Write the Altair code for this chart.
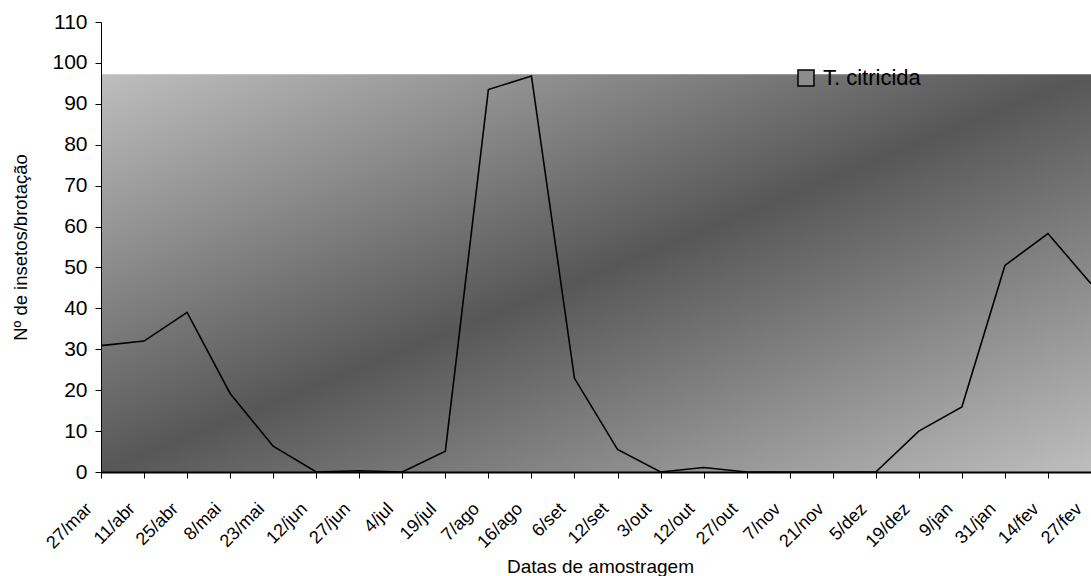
import altair as alt
import pandas as pd

# ---- dados ----
categorias = ["27/mar", "11/abr", "25/abr", "8/mai", "23/mai", "12/jun", "27/jun", "4/jul",
              "19/jul", "7/ago", "16/ago", "6/set", "12/set", "3/out", "12/out", "27/out",
              "7/nov", "21/nov", "5/dez", "19/dez", "9/jan", "31/jan", "14/fev", "27/fev"]
t_citricida = [30.9, 32.0, 39.0, 19.2, 6.3, 0.0, 0.3, 0.0,
               5.1, 93.5, 96.8, 22.9, 5.5, 0.0, 1.1, 0.0,
               0.0, 0.0, 0.0, 10.0, 15.9, 50.5, 58.3, 46.0]
serie_nome = "T. citricida"
y_ticks = list(range(0, 111, 10))
fundo_base = 0
fundo_topo = 97.2

FONT = "Liberation Sans"

df = pd.DataFrame({"data": categorias, "valor": t_citricida, "serie": serie_nome})
df_fundo = pd.DataFrame({"base": [fundo_base], "topo": [fundo_topo]})

gradiente = alt.LinearGradient(
    gradient="linear",
    stops=[alt.GradientStop(color="#bebebe", offset=0),
           alt.GradientStop(color="#575757", offset=0.5),
           alt.GradientStop(color="#bebebe", offset=1)],
    x1=0, y1=0, x2=1, y2=1,
)

x_enc = alt.X(
    "data:N",
    sort=categorias,
    scale=alt.Scale(type="point", padding=0),
    axis=alt.Axis(
        title="Datas de amostragem",
        labelAngle=-45, labelFontSize=18, labelFont=FONT, labelColor="black",
        labelPadding=28, labelOffset=-12, labelAlign="right", labelBaseline="middle",
        tickSize=6, tickColor="black", domainColor="black", domainWidth=2,
        titleFontSize=19, titleFont=FONT, titleFontWeight="normal", titleColor="black",
        titleX=499, titleY=100, titleBaseline="alphabetic", titleAlign="center",
        labelOverlap=False, labelBound=False, grid=False, zindex=2,
    ),
)
y_scale = alt.Scale(domain=[0, 110], nice=False)
y_axis = alt.Axis(
    title="Nº de insetos/brotação", values=y_ticks,
    labelFontSize=21, labelFont=FONT, labelColor="black", labelPadding=8,
    tickSize=6, tickColor="black", domainColor="black", domainWidth=1,
    titleFontSize=18.5, titleFont=FONT, titleFontWeight="normal", titleColor="black",
    titleX=-81, titleY=225, titleAngle=-90, titleBaseline="middle", titleAlign="center",
    grid=False, zindex=2,
)

fundo = alt.Chart(df_fundo).mark_rect(color=gradiente).encode(
    x=alt.value(0), x2=alt.value("width"),
    y=alt.Y("base:Q", scale=y_scale, axis=y_axis),
    y2="topo:Q",
)

linha = alt.Chart(df).mark_line(color="black", strokeWidth=1.6).encode(
    x=x_enc,
    y=alt.Y("valor:Q", scale=y_scale, axis=y_axis),
    color=alt.Color(
        "serie:N",
        scale=alt.Scale(range=["black"]),
        legend=alt.Legend(
            title=None, orient="none", legendX=694, legendY=45,
            symbolType="square", symbolSize=256, symbolFillColor="#8c8c8c",
            symbolStrokeColor="black", symbolStrokeWidth=1.5,
            labelFontSize=22, labelFont=FONT, labelColor="black", labelOffset=6,
            padding=0,
        ),
    ),
)

chart = alt.layer(fundo, linha).properties(
    width=990, height=450,
    padding={"left": 101, "top": 22, "right": 0, "bottom": 104},
    autosize=alt.AutoSizeParams(type="none"),
).configure_view(stroke=None)

chart.save("out.html", embed_options={"renderer": "svg", "actions": False})
